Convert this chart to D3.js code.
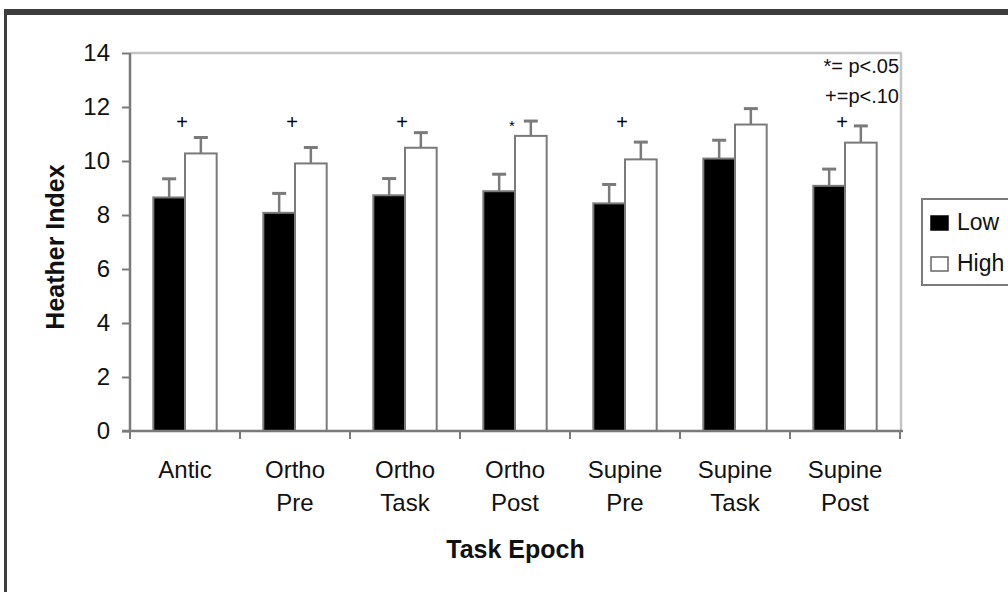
<!DOCTYPE html>
<html>
<head>
<meta charset="utf-8">
<script src="https://cdn.jsdelivr.net/npm/d3@7"></script>
<style>
  html, body { margin: 0; padding: 0; background: #fff; }
  svg { display: block; font-family: "Liberation Sans", Arial, sans-serif; }
</style>
</head>
<body>
<svg id="chart" width="1008" height="592"></svg>
<script>
// Task epochs (two-line labels)
const categoriesLine1 = ["Antic", "Ortho", "Ortho", "Ortho", "Supine", "Supine", "Supine"];
const categoriesLine2 = ["", "Pre", "Task", "Post", "Pre", "Task", "Post"];
const seriesNames = ["Low", "High"];

// Heather Index means and standard errors
const lowValues  = [8.65, 8.08, 8.73, 8.88, 8.43, 10.09, 9.08];
const lowErrors  = [0.69, 0.72, 0.62, 0.63, 0.70, 0.68, 0.62];
const highValues = [10.28, 9.91, 10.49, 10.93, 10.06, 11.35, 10.68];
const highErrors = [0.59, 0.59, 0.56, 0.55, 0.64, 0.59, 0.62];

// Significance marks per epoch
const sigMarks = ["+", "+", "+", "*", "+", "", "+"];
const yTicks = [0, 2, 4, 6, 8, 10, 12, 14];
const noteLines = ["*= p<.05", "+=p<.10"];

const svg = d3.select("#chart");
const W = 1008, H = 592;
const plot = { left: 130, right: 901, top: 53, bottom: 431 };

// Outer frame (top band and left edge)
svg.append("rect").attr("x", 4).attr("y", 9).attr("width", W - 4).attr("height", 6).attr("fill", "#3e3e3e");
svg.append("rect").attr("x", 4).attr("y", 9).attr("width", 3).attr("height", H - 9).attr("fill", "#3e3e3e");

const idx = d3.range(categoriesLine1.length);
const x0 = d3.scaleBand().domain(idx).range([plot.left, plot.right - 1])
  .paddingInner(0.424).paddingOuter(0.212);
const x1 = d3.scaleBand().domain(seriesNames).range([0, x0.bandwidth()]);
const y = d3.scaleLinear().domain([0, 14]).range([plot.bottom, plot.top]);

// Plot-area border (top and right)
svg.append("line").attr("x1", plot.left).attr("x2", plot.right + 1)
  .attr("y1", plot.top).attr("y2", plot.top)
  .attr("stroke", "#c4c4c4").attr("stroke-width", 2.5);
svg.append("line").attr("x1", plot.right).attr("x2", plot.right)
  .attr("y1", plot.top).attr("y2", plot.bottom)
  .attr("stroke", "#c4c4c4").attr("stroke-width", 2.5);

const rows = idx.map(i => ({
  i,
  bars: [
    { s: "Low", v: lowValues[i], e: lowErrors[i] },
    { s: "High", v: highValues[i], e: highErrors[i] }
  ]
}));

const groups = svg.append("g").selectAll("g").data(rows).join("g")
  .attr("transform", d => `translate(${x0(d.i)},0)`);

// Error bars (upper half only), drawn beneath the bars
groups.selectAll("g.err").data(d => d.bars).join("g").attr("class", "err")
  .each(function(d) {
    const g = d3.select(this);
    const cx = x1(d.s) + x1.bandwidth() / 2;
    g.append("line").attr("x1", cx).attr("x2", cx)
      .attr("y1", y(d.v)).attr("y2", y(d.v + d.e))
      .attr("stroke", "#7a7a7a").attr("stroke-width", 2.5);
    g.append("line").attr("x1", cx - 7).attr("x2", cx + 7)
      .attr("y1", y(d.v + d.e)).attr("y2", y(d.v + d.e))
      .attr("stroke", "#7a7a7a").attr("stroke-width", 3);
  });

groups.selectAll("rect").data(d => d.bars).join("rect")
  .attr("x", d => x1(d.s))
  .attr("y", d => y(d.v))
  .attr("width", x1.bandwidth())
  .attr("height", d => y(0) - y(d.v))
  .attr("fill", d => d.s === "Low" ? "#000" : "#fff")
  .attr("stroke", "#7a7a7a").attr("stroke-width", 2);

// Significance markers above each pair
svg.append("g").selectAll("text").data(idx.filter(i => sigMarks[i])).join("text")
  .attr("x", i => x0(i) + x0.bandwidth() / 2 - 3)
  .attr("y", i => sigMarks[i] === "*" ? y(11.45) + 9 : y(11.45) + 7)
  .attr("text-anchor", "middle")
  .attr("font-size", i => sigMarks[i] === "*" ? 15 : 20)
  .attr("fill", "#000")
  .text(i => sigMarks[i]);

// Y axis
const yAxis = svg.append("g").attr("transform", `translate(${plot.left},0)`)
  .call(d3.axisLeft(y).tickValues(yTicks).tickSize(8).tickPadding(12).tickFormat(d3.format("d")));
yAxis.select(".domain").attr("stroke", "#7a7a7a").attr("stroke-width", 2.5)
  .attr("d", `M0,${plot.top}V${plot.bottom}`);
yAxis.selectAll(".tick line").attr("stroke", "#7a7a7a").attr("stroke-width", 2);
yAxis.selectAll(".tick text").attr("font-size", 24).attr("fill", "#111")
  .attr("font-family", "Liberation Sans, Arial, sans-serif");

// X axis with tick marks at category boundaries
const xAxisG = svg.append("g");
xAxisG.append("line").attr("x1", plot.left - 8).attr("x2", plot.right + 2)
  .attr("y1", plot.bottom).attr("y2", plot.bottom)
  .attr("stroke", "#7a7a7a").attr("stroke-width", 2.5);
const boundaries = d3.range(categoriesLine1.length + 1);
xAxisG.selectAll("line.tk").data(boundaries).join("line").attr("class", "tk")
  .attr("x1", k => plot.left + k * x0.step()).attr("x2", k => plot.left + k * x0.step())
  .attr("y1", plot.bottom).attr("y2", plot.bottom + 8)
  .attr("stroke", "#7a7a7a").attr("stroke-width", 2);

const catLabels = svg.append("g").selectAll("text").data(idx).join("text")
  .attr("text-anchor", "middle")
  .attr("font-size", 24).attr("fill", "#111");
catLabels.append("tspan")
  .attr("x", i => x0(i) + x0.bandwidth() / 2).attr("y", 478)
  .text(i => categoriesLine1[i]);
catLabels.append("tspan")
  .attr("x", i => x0(i) + x0.bandwidth() / 2).attr("y", 511)
  .text(i => categoriesLine2[i]);

// Axis titles
svg.append("text").attr("x", (plot.left + plot.right) / 2).attr("y", 558)
  .attr("text-anchor", "middle").attr("font-size", 25).attr("font-weight", "bold")
  .attr("fill", "#111").text("Task Epoch");
svg.append("text")
  .attr("transform", `translate(64,${(plot.top + plot.bottom) / 2 + 5}) rotate(-90)`)
  .attr("text-anchor", "middle").attr("font-size", 25).attr("font-weight", "bold")
  .attr("fill", "#111").text("Heather Index");

// Significance note in the top right corner
svg.append("g").selectAll("text").data(noteLines).join("text")
  .attr("x", 899).attr("y", (d, k) => 73 + k * 30)
  .attr("text-anchor", "end").attr("font-size", 20).attr("fill", "#111")
  .text(d => d);

// Legend
const legend = svg.append("g");
legend.append("rect").attr("x", 922).attr("y", 199).attr("width", 100).attr("height", 86)
  .attr("fill", "#fff").attr("stroke", "#7a7a7a").attr("stroke-width", 2);
const items = legend.selectAll("g.item").data(seriesNames).join("g").attr("class", "item")
  .attr("transform", (d, k) => `translate(931,${216 + k * 41})`);
items.append("rect").attr("width", 17).attr("height", 14)
  .attr("fill", d => d === "Low" ? "#000" : "#fff")
  .attr("stroke", d => d === "Low" ? "#000" : "#666").attr("stroke-width", 1.5);
items.append("text").attr("x", 26).attr("y", 14)
  .attr("font-size", 23).attr("fill", "#111").text(d => d);
</script>
</body>
</html>
